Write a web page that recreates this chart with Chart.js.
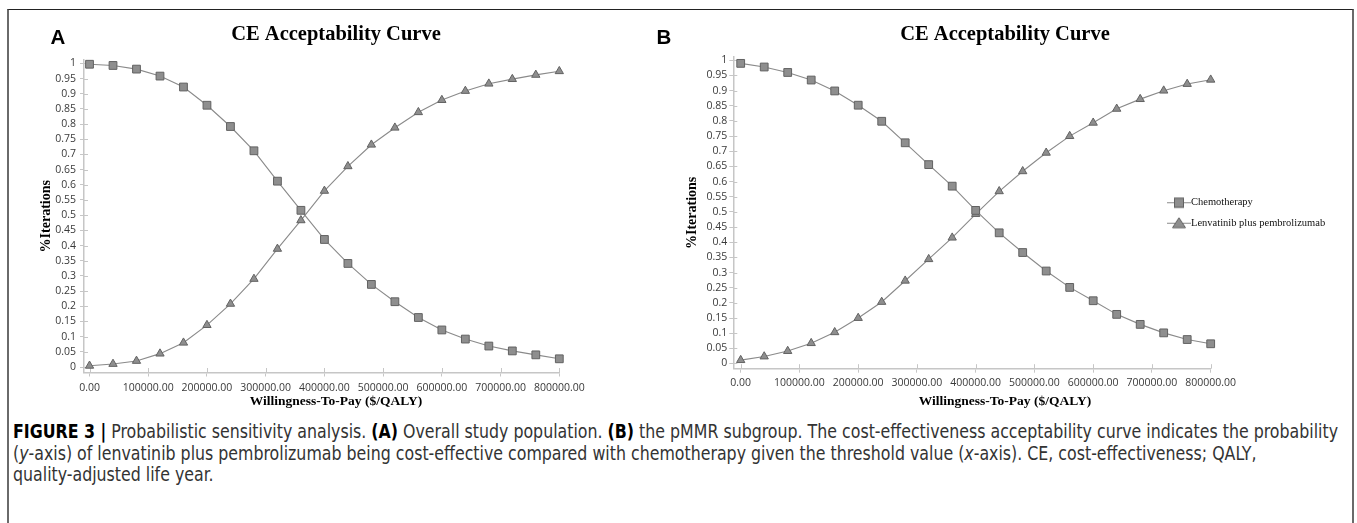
<!DOCTYPE html>
<html lang="en">
<head>
  <meta charset="UTF-8">
  <title>CE Acceptability Curve</title>
  <script src="https://cdn.jsdelivr.net/npm/chart.js"></script>
  <style>
    html, body { margin: 0; padding: 0; background: #fff; }
    body { width: 1357px; height: 523px; position: relative; overflow: hidden; }
    .frame {
      position: absolute; left: 7px; top: 9px; width: 1343px; height: 540px;
      border-top: 1.5px solid #222; border-left: 2px solid #6a6a6a; border-right: 2px solid #6a6a6a;
    }
    canvas { position: absolute; top: 10px; }
    #chartA { left: 10px; }
    #chartB { left: 662px; }
    .tag { position: absolute; top: 26.6px; font: bold 20.5px "Liberation Sans", Arial, sans-serif; line-height: 20.5px; color: #000; }
    .caption {
      position: absolute; left: 13px; top: 421px; transform-origin: 0 0;
      font-family: "Liberation Sans Narrow", "DejaVu Sans Condensed", "Liberation Sans", sans-serif;
      font-size: 19px; line-height: 21.5px; color: #333; white-space: nowrap;
    }
    .caption b { color: #000; }
    .caption span { display: inline-block; }
  </style>
</head>
<body>
  <div class="frame"></div>
  <canvas id="chartA" width="652" height="410"></canvas>
  <canvas id="chartB" width="686" height="410"></canvas>
  <div class="tag" style="left:50.5px">A</div>
  <div class="tag" style="left:656.5px">B</div>

  <div class="caption" id="caption">
    <div><span id="capLine1"><b>FIGURE 3 |</b> Probabilistic sensitivity analysis. <b>(A)</b> Overall study population. <b>(B)</b> the pMMR subgroup. The cost-effectiveness acceptability curve indicates the probability</span></div>
    <div><span>(<i>y</i>-axis) of lenvatinib plus pembrolizumab being cost-effective compared with chemotherapy given the threshold value (<i>x</i>-axis). CE, cost-effectiveness; QALY,</span></div>
    <div><span>quality-adjusted life year.</span></div>
  </div>

  <script>
    // values
    const wtp = [0, 40000, 80000, 120000, 160000, 200000, 240000, 280000, 320000, 360000, 400000,
                 440000, 480000, 520000, 560000, 600000, 640000, 680000, 720000, 760000, 800000];
    const seriesNames = ['Chemotherapy', 'Lenvatinib plus pembrolizumab'];

    const chemoA = [0.997, 0.993, 0.981, 0.958, 0.922, 0.862, 0.792, 0.712, 0.612, 0.516, 0.420,
                    0.341, 0.272, 0.215, 0.163, 0.122, 0.092, 0.069, 0.053, 0.040, 0.027];
    const lenvaA = [0.004, 0.010, 0.020, 0.044, 0.080, 0.138, 0.208, 0.290, 0.389, 0.483, 0.580,
                    0.661, 0.732, 0.788, 0.839, 0.879, 0.909, 0.933, 0.948, 0.962, 0.974];

    const chemoB = [0.990, 0.978, 0.960, 0.935, 0.899, 0.852, 0.799, 0.728, 0.656, 0.585, 0.505,
                    0.431, 0.366, 0.305, 0.251, 0.207, 0.162, 0.129, 0.101, 0.079, 0.065];
    const lenvaB = [0.011, 0.023, 0.041, 0.067, 0.103, 0.150, 0.203, 0.273, 0.344, 0.415, 0.493,
                    0.568, 0.634, 0.695, 0.750, 0.794, 0.840, 0.872, 0.900, 0.922, 0.936];

    const xTicks = [0, 100000, 200000, 300000, 400000, 500000, 600000, 700000, 800000];
    const xTickLabels = ['0.00', '100000.00', '200000.00', '300000.00', '400000.00',
                         '500000.00', '600000.00', '700000.00', '800000.00'];
    const yTicks = [0, 0.05, 0.1, 0.15, 0.2, 0.25, 0.3, 0.35, 0.4, 0.45, 0.5,
                    0.55, 0.6, 0.65, 0.7, 0.75, 0.8, 0.85, 0.9, 0.95, 1];
    const yTickLabels = ['0', '0.05', '0.1', '0.15', '0.2', '0.25', '0.3', '0.35', '0.4', '0.45', '0.5',
                         '0.55', '0.6', '0.65', '0.7', '0.75', '0.8', '0.85', '0.9', '0.95', '1'];

    const serif = '"Liberation Serif", "Times New Roman", serif';
    const tickFont = { family: '"Open Sans", "Noto Sans", sans-serif', size: 10.5 };
    const axisColor = '#c6c6c6';
    const lineColor = '#8a8a8a';
    const markFill = '#8e8e8e';
    const markEdge = '#626262';

    // small line+marker pictures for the legend
    function legendIcon(shape) {
      const c = document.createElement('canvas');
      c.width = 24; c.height = 14;
      const g = c.getContext('2d');
      g.strokeStyle = lineColor; g.lineWidth = 1;
      g.beginPath(); g.moveTo(0, 7.5); g.lineTo(24, 7.5); g.stroke();
      g.fillStyle = markFill; g.strokeStyle = markEdge;
      if (shape === 'rect') {
        g.fillRect(7, 2.5, 10, 10);
        g.strokeRect(7.5, 3, 9, 9);
      } else {
        g.beginPath(); g.moveTo(12, 2); g.lineTo(18.5, 12); g.lineTo(5.5, 12); g.closePath();
        g.fill(); g.stroke();
      }
      return c;
    }
    const legendIcons = [legendIcon('rect'), legendIcon('triangle')];

    // short tick marks on the inner side of both axes
    const crossTicks = {
      id: 'crossTicks',
      beforeDatasetsDraw(chart) {
        const { ctx, chartArea: a, scales: { x, y } } = chart;
        ctx.save();
        ctx.strokeStyle = axisColor;
        ctx.lineWidth = 1;
        ctx.beginPath();
        yTicks.forEach(v => {
          const py = Math.round(y.getPixelForValue(v)) + 0.5;
          ctx.moveTo(a.left, py); ctx.lineTo(a.left + 4, py);
        });
        xTicks.forEach(v => {
          const px = Math.round(x.getPixelForValue(v)) + 0.5;
          ctx.moveTo(px, a.bottom); ctx.lineTo(px, a.bottom - 4.5);
        });
        ctx.stroke();
        ctx.restore();
      }
    };

    // legend floats over the plot, so move it after layout
    const placeLegend = {
      id: 'placeLegend',
      afterLayout(chart, args, opts) {
        const lg = chart.legend;
        if (!lg || !opts || opts.left === undefined) return;
        lg.left = opts.left; lg.right = opts.left + lg.width;
        lg.top = opts.top; lg.height = 80; lg.bottom = opts.top + 80;
      }
    };

    function buildChart(id, p) {
      const series = [
        { label: seriesNames[0], values: p.chemo, style: 'rect', radius: 5.5 },
        { label: seriesNames[1], values: p.lenva, style: 'triangle', radius: 4.8 }
      ];
      return new Chart(document.getElementById(id), {
        type: 'line',
        data: {
          datasets: series.map(s => ({
            label: s.label,
            data: wtp.map((x, i) => ({ x: x, y: s.values[i] })),
            borderColor: lineColor,
            borderWidth: 1.1,
            tension: 0,
            pointStyle: s.style,
            pointRadius: s.radius,
            pointBackgroundColor: markFill,
            pointBorderColor: markEdge,
            pointBorderWidth: 1,
            clip: false
          }))
        },
        options: {
          responsive: false,
          animation: false,
          events: [],
          layout: { padding: 0 },
          plugins: {
            title: {
              display: true,
              text: 'CE Acceptability Curve',
              color: '#000',
              font: { family: serif, size: 20.5, weight: 'bold' },
              padding: { top: p.titleTop, bottom: p.titleBottom }
            },
            subtitle: {
              display: true,
              position: 'bottom',
              text: 'Willingness-To-Pay ($/QALY)',
              color: '#000',
              font: { family: serif, size: 13.5, weight: 'bold' },
              padding: { top: 0, bottom: p.subBottom }
            },
            legend: p.legend ? {
              display: true,
              position: 'chartArea',
              align: 'start',
              labels: {
                usePointStyle: true,
                pointStyleWidth: 13.5,
                padding: 10,
                color: '#111',
                font: { family: serif, size: 10.5 },
                generateLabels: chart => chart.data.datasets.map((ds, i) => ({
                  text: ds.label, pointStyle: legendIcons[i], fillStyle: markFill,
                  strokeStyle: markEdge, lineWidth: 0, hidden: false, datasetIndex: i, fontColor: '#111'
                }))
              }
            } : { display: false },
            placeLegend: p.legend || {},
            tooltip: { enabled: false }
          },
          scales: {
            x: {
              type: 'linear',
              min: p.xMin,
              max: 800000,
              afterBuildTicks: s => { s.ticks = xTicks.map(v => ({ value: v })); },
              afterFit: s => { s.height = p.xHeight; },
              ticks: {
                autoSkip: false, maxRotation: 0, padding: p.xTickPad, color: '#3a3a3a', font: tickFont,
                callback: (v, i) => xTickLabels[i]
              },
              grid: { drawOnChartArea: false, tickLength: 4, color: axisColor },
              border: { color: axisColor, width: 1.5 }
            },
            y: {
              type: 'linear',
              min: p.yMin,
              max: 1.011,
              afterBuildTicks: s => { s.ticks = yTicks.map(v => ({ value: v })); },
              afterFit: s => { s.width = p.yWidth; },
              title: {
                display: true,
                text: '%Iterations',
                color: '#000',
                font: { family: serif, size: 14, weight: 'bold' },
                padding: { top: p.yTitlePad, bottom: 0 }
              },
              ticks: {
                autoSkip: false, padding: p.yTickPad, color: '#3a3a3a', font: tickFont,
                callback: (v, i) => yTickLabels[i]
              },
              grid: { drawOnChartArea: false, tickLength: 4, color: axisColor },
              border: { color: axisColor, width: 1.5 }
            },
            // empty right-hand box that keeps the plot narrower than the canvas
            pad: {
              type: 'linear',
              position: 'right',
              ticks: { display: false },
              grid: { display: false, drawTicks: false },
              border: { display: false },
              afterFit: s => { s.width = p.padRight; }
            }
          }
        },
        plugins: [crossTicks, placeLegend]
      });
    }

    buildChart('chartA', {
      chemo: chemoA, lenva: lenvaA,
      xMin: -9400, yMin: -0.0181,
      titleTop: 12.7, titleBottom: 12.7, subBottom: 9.9,
      xHeight: 21.4, yWidth: 74, yTitlePad: 28.3, yTickPad: 4, xTickPad: 5, padRight: 102.7,
      legend: null
    });

    buildChart('chartB', {
      chemo: chemoB, lenva: lenvaB,
      xMin: -12600, yMin: -0.0172,
      titleTop: 12.2, titleBottom: 10.2, subBottom: 10.2,
      xHeight: 24.9, yWidth: 71.3, yTitlePad: 21.6, yTickPad: 2, xTickPad: 4.5, padRight: 137.3,
      legend: { left: 500.25, top: 177 }
    });

    // fit the caption width to the reference line length
    const line1 = document.getElementById('capLine1');
    const w = line1.getBoundingClientRect().width;
    document.getElementById('caption').style.transform = 'scaleX(' + (1325 / w) + ')';
  </script>
</body>
</html>
